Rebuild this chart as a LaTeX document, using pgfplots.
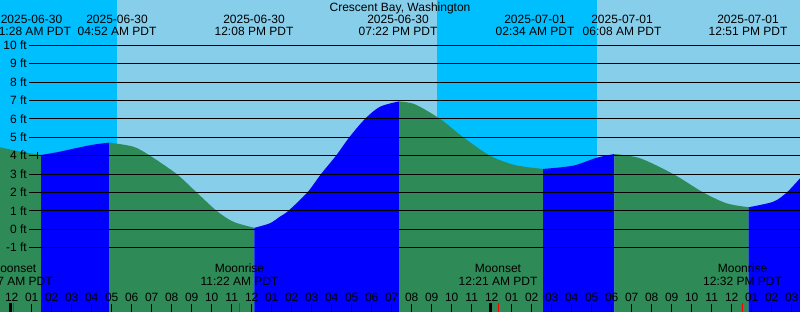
\documentclass[border=0pt]{standalone}
\usepackage{fontspec}
\setmainfont{Liberation Sans}
\usepackage{pgfplots}
\pgfplotsset{compat=1.18}
\usepgfplotslibrary{fillbetween}
\definecolor{night}{RGB}{0,191,255}
\definecolor{day}{RGB}{135,206,235}
\definecolor{ebb}{RGB}{46,139,87}
\definecolor{flood}{RGB}{0,0,255}
\begin{document}
\begin{tikzpicture}[every node/.style={font=\fontsize{12}{14}\selectfont}]
\begin{axis}[at={(0,0)}, anchor=south west, scale only axis,
  width=800pt, height=312pt,
  xmin=-0.585, xmax=39.415, ymin=-4.495, ymax=12.462,
  axis background/.style={fill=day},
  axis line style={draw=none},
  axis on top,
  ytick=\empty,
  xtick={0,...,39},
  xticklabels={12,01,02,03,04,05,06,07,08,09,10,11,12,01,02,03,04,05,06,07,08,09,10,11,12,01,02,03,04,05,06,07,08,09,10,11,12,01,02,03},
  xtick pos=lower,
  tick align=inside,
  major tick length=8pt,
  tick style={black, line width=1pt},
  xticklabel style={anchor=base, yshift=10pt, inner sep=0pt, font=\fontsize{12}{14}\selectfont},
]
% paths
\addplot[name path=top, draw=none] coordinates {(-0.585,12.462) (39.415,12.462)};
\addplot[name path=bot, draw=none] coordinates {(-0.585,-4.495) (39.415,-4.495)};
% tide, one piece between each pair of turning points
\addplot[name path=s1, draw=none, smooth] coordinates {(-0.585,4.46) (0.415,4.22) (1.467,4.04)};
\addplot[name path=s2, draw=none, smooth] coordinates {(1.467,4.04) (2.33,4.20) (3.165,4.40) (4.08,4.60) (4.867,4.71)};
\addplot[name path=s3, draw=none, smooth] coordinates {(4.867,4.71) (6.08,4.49) (6.915,4.0) (8.25,3.0) (9.25,2.0) (10.25,1.0) (11.08,0.41) (12.133,0.08)};
\addplot[name path=s4, draw=none, smooth] coordinates {(12.133,0.08) (12.915,0.33) (13.415,0.69) (13.83,1.0) (14.78,2.0) (15.465,3.0) (16.215,4.0) (16.88,5.0) (17.665,6.0) (18.415,6.66) (19.367,6.95)};
\addplot[name path=s5, draw=none, smooth] coordinates {(19.367,6.95) (20.165,6.79) (21.415,6.0) (22.58,5.0) (23.915,4.0) (25.165,3.49) (26.567,3.28)};
\addplot[name path=s6, draw=none, smooth] coordinates {(26.567,3.28) (28.08,3.46) (29.25,3.89) (30.133,4.09)};
\addplot[name path=s7, draw=none, smooth] coordinates {(30.133,4.09) (31.415,3.86) (33.08,3.0) (34.58,2.0) (35.75,1.41) (36.85,1.2)};
\addplot[name path=s8, draw=none, smooth] coordinates {(36.85,1.2) (38.08,1.5) (38.75,2.0) (39.415,2.77)};
% bottoms of the tide pieces
\addplot[name path=b1, draw=none] coordinates {(-0.585,-4.495) (1.467,-4.495)};
\addplot[name path=b2, draw=none] coordinates {(1.467,-4.495) (4.867,-4.495)};
\addplot[name path=b3, draw=none] coordinates {(4.867,-4.495) (12.133,-4.495)};
\addplot[name path=b4, draw=none] coordinates {(12.133,-4.495) (19.367,-4.495)};
\addplot[name path=b5, draw=none] coordinates {(19.367,-4.495) (26.567,-4.495)};
\addplot[name path=b6, draw=none] coordinates {(26.567,-4.495) (30.133,-4.495)};
\addplot[name path=b7, draw=none] coordinates {(30.133,-4.495) (36.85,-4.495)};
\addplot[name path=b8, draw=none] coordinates {(36.85,-4.495) (39.415,-4.495)};
% night
\addplot[fill=night] fill between[of=top and bot, soft clip={domain=-0.585:5.25}];
\addplot[fill=night] fill between[of=top and bot, soft clip={domain=21.25:29.25}];
% tide areas
\addplot[fill=ebb] fill between[of=s1 and b1];
\addplot[fill=flood] fill between[of=s2 and b2];
\addplot[fill=ebb] fill between[of=s3 and b3];
\addplot[fill=flood] fill between[of=s4 and b4];
\addplot[fill=ebb] fill between[of=s5 and b5];
\addplot[fill=flood] fill between[of=s6 and b6];
\addplot[fill=ebb] fill between[of=s7 and b7];
\addplot[fill=flood] fill between[of=s8 and b8];
% grid lines
\pgfplotsinvokeforeach{-1,...,10}{
  \addplot[black, line width=1pt] coordinates {(0.865,#1) (39.415,#1)};
  \node[anchor=east, inner sep=0pt] at (axis cs:0.765,#1) {#1 ft};
}
% small level mark
\addplot[black, line width=1pt] coordinates {(1.28,3.8) (1.28,4.2)};
% midnight and moon ticks
\addplot[black, line width=2.7pt] coordinates {(-0.05,-4.495) (-0.05,-3.98)};
\addplot[black, line width=2.7pt] coordinates {(23.95,-4.495) (23.95,-3.98)};
\addplot[red, line width=1pt] coordinates {(0.08,-4.495) (0.08,-3.98)};
\addplot[red, line width=1pt] coordinates {(11.37,-4.495) (11.37,-3.98)};
\addplot[red, line width=1pt] coordinates {(24.35,-4.495) (24.35,-3.98)};
\addplot[red, line width=1pt] coordinates {(36.53,-4.495) (36.53,-3.98)};
% title
\node[anchor=base] at (axis cs:19.415,11.86) {Crescent Bay, Washington};
% tide event labels
\node[anchor=base] at (axis cs:0.99,11.185) {2025-06-30};
\node[anchor=base] at (axis cs:0.99,10.52) {01:28 AM PDT};
\node[anchor=base] at (axis cs:5.265,11.185) {2025-06-30};
\node[anchor=base] at (axis cs:5.265,10.52) {04:52 AM PDT};
\node[anchor=base] at (axis cs:12.115,11.185) {2025-06-30};
\node[anchor=base] at (axis cs:12.115,10.52) {12:08 PM PDT};
\node[anchor=base] at (axis cs:19.315,11.185) {2025-06-30};
\node[anchor=base] at (axis cs:19.315,10.52) {07:22 PM PDT};
\node[anchor=base] at (axis cs:26.165,11.185) {2025-07-01};
\node[anchor=base] at (axis cs:26.165,10.52) {02:34 AM PDT};
\node[anchor=base] at (axis cs:30.515,11.185) {2025-07-01};
\node[anchor=base] at (axis cs:30.515,10.52) {06:08 AM PDT};
\node[anchor=base] at (axis cs:36.815,11.185) {2025-07-01};
\node[anchor=base] at (axis cs:36.815,10.52) {12:51 PM PDT};
% moon labels
\node[anchor=base] at (axis cs:0.08,-2.375) {Moonset};
\node[anchor=base] at (axis cs:0.08,-3.08) {12:07 AM PDT};
\node[anchor=base] at (axis cs:11.39,-2.375) {Moonrise};
\node[anchor=base] at (axis cs:11.39,-3.08) {11:22 AM PDT};
\node[anchor=base] at (axis cs:24.315,-2.375) {Moonset};
\node[anchor=base] at (axis cs:24.315,-3.08) {12:21 AM PDT};
\node[anchor=base] at (axis cs:36.54,-2.375) {Moonrise};
\node[anchor=base] at (axis cs:36.54,-3.08) {12:32 PM PDT};
\end{axis}
\pgfresetboundingbox
\path[use as bounding box] (0,0) rectangle (800pt,312pt);
\end{tikzpicture}
\end{document}
